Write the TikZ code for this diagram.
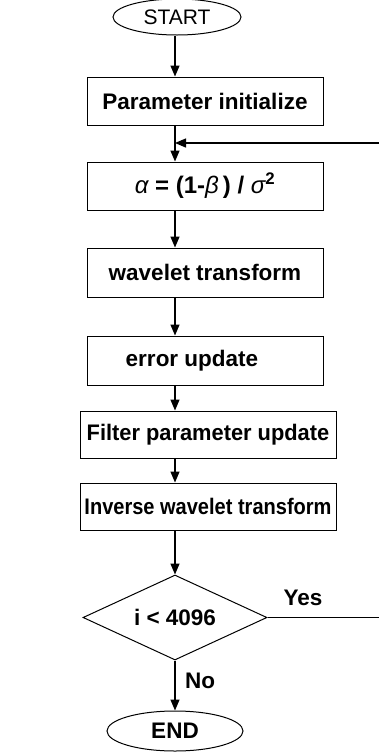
\documentclass[tikz,border=0pt]{standalone}
\usepackage{fontspec}
\usepackage{graphicx}
\setmainfont{Liberation Sans}
\usetikzlibrary{shapes.geometric,arrows.meta}
\begin{document}
\begin{tikzpicture}[x=1pt,y=-1pt,
  txt/.style={font=\fontsize{22.5}{26}\selectfont\bfseries},
  box/.style={draw, line width=1pt, inner sep=0pt, txt},
  term/.style={draw, ellipse, line width=1pt, inner sep=0pt},
  dec/.style={draw, diamond, line width=1pt, inner sep=0pt, aspect=2.16, txt},
  flow/.style={line width=1.3pt},
  arr/.style={flow, -{Triangle[length=11pt,width=9pt]}},
]
\useasboundingbox (0,0) rectangle (379,753);
\coordinate (spine) at (175,0);

\node[term, minimum width=128pt, minimum height=36pt,
      font=\fontsize{21}{24}\selectfont] (start) at (177,17) {START};
\node[box, minimum width=236pt, minimum height=48pt] (p1) at (205,101) {Parameter initialize};
\node[box, minimum width=236pt, minimum height=48pt, font=\fontsize{24}{28}\selectfont\bfseries] (alpha) at (205,186)
  {{\mdseries\itshape α} = (1-{\mdseries\itshape β}\,) / {\mdseries\itshape σ}\textsuperscript{2}};
\node[box, minimum width=236pt, minimum height=49pt] (wt) at (205,272.5) {wavelet transform};
\node[box, minimum width=236pt, minimum height=49pt] (eu) at (205,360.5) {error update\hspace*{26pt}};
\node[box, minimum width=256pt, minimum height=47pt] (fp) at (208,434.5) {\scalebox{0.97}[1]{Filter parameter update}};
\node[box, minimum width=256pt, minimum height=47pt] (iw) at (208,506.5) {\scalebox{0.89}[1]{Inverse wavelet transform}};
\node[dec, minimum width=184pt, minimum height=85pt] (d) at (175,617.5) {i < 4096};
\node[term, minimum width=136pt, minimum height=40pt, txt] (end) at (175,731) {END};

\node[txt] (yes) at (303,598) {Yes};
\node[txt] (no) at (200,681) {No};

\coordinate (fb) at (379,143);
\coordinate (yesend) at (379,617.5);

\draw[arr] (start.south -| spine) -- (p1.north -| spine);
\draw[arr] (p1.south -| spine) -- (alpha.north -| spine);
\draw[arr] (fb) -- (fb -| spine);
\draw[arr] (alpha.south -| spine) -- (wt.north -| spine);
\draw[arr] (wt.south -| spine) -- (eu.north -| spine);
\draw[arr] (eu.south -| spine) -- (fp.north -| spine);
\draw[arr] (fp.south -| spine) -- (iw.north -| spine);
\draw[arr] (iw.south -| spine) -- (d.north);
\draw[arr] (d.south) -- (end.north);
\draw[flow, line width=1pt] (d.east) -- (yesend);
\end{tikzpicture}
\end{document}
